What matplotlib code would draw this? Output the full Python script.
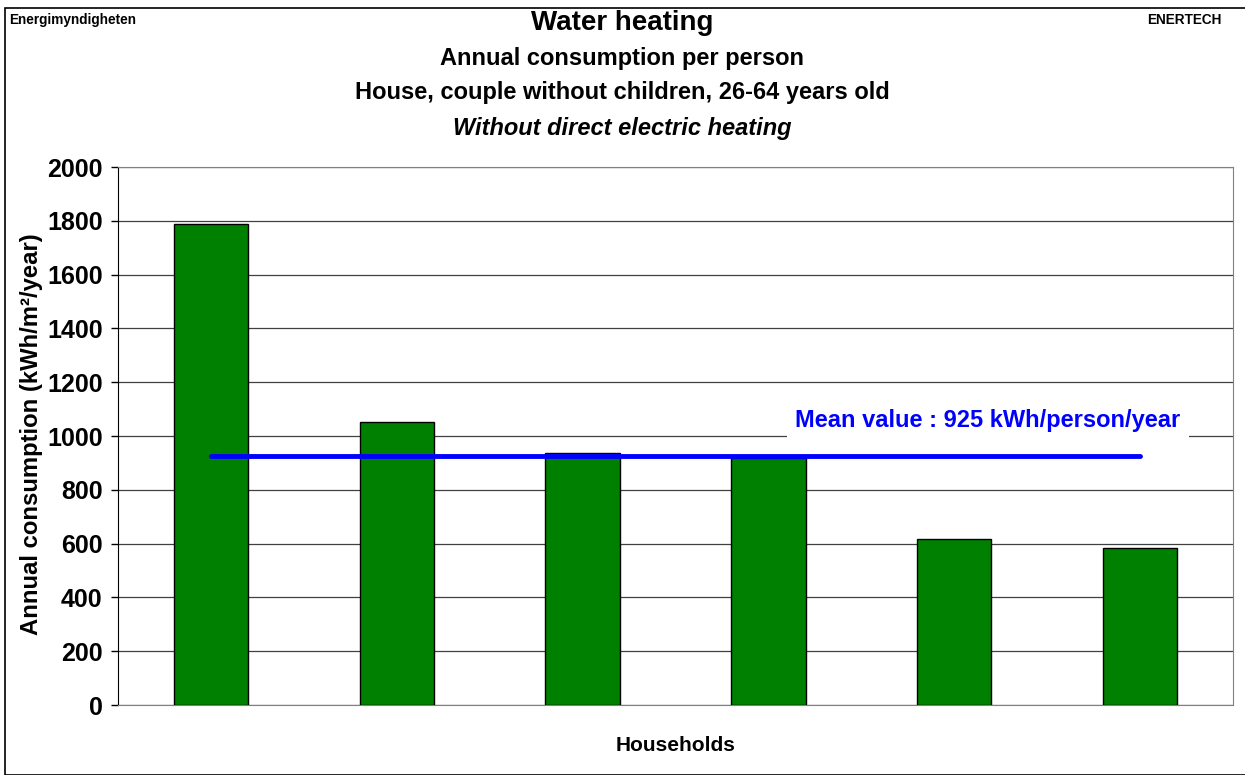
import matplotlib.pyplot as plt
from matplotlib.patches import Rectangle

plt.rcParams['font.family'] = ['Liberation Sans', 'DejaVu Sans']

households = ['1', '2', '3', '4', '5', '6']
consumption = [1790, 1052, 937, 920, 617, 584]
mean_value = 925

fig = plt.figure(figsize=(12.45, 7.75), dpi=100)
ax = fig.add_axes([0.0948, 0.0903, 0.8956, 0.6942])

# figure frame
fig.patches.append(Rectangle((5/1245, 0), 1, 1 - 8/775, transform=fig.transFigure,
                             fill=False, edgecolor='black', linewidth=1.2))

x = [i + 0.5 for i in range(len(households))]
ax.bar(x, consumption, width=0.4, color='#008000', edgecolor='black', linewidth=1, zorder=3)
ax.plot([x[0], x[-1]], [mean_value, mean_value], color='#0000ff', linewidth=3.5,
        solid_capstyle='round', zorder=4)
ax.text(4.68, 1058, 'Mean value : %d kWh/person/year' % mean_value, color='#0000ff',
        fontsize=17, fontweight='bold', ha='center', va='center', zorder=5,
        bbox=dict(facecolor='white', edgecolor='none', pad=6))

ax.set_xlim(0, 6)
ax.set_ylim(0, 2000)
ax.set_yticks(range(0, 2001, 200))
ax.set_xticks([])
ax.grid(axis='y', color='#404040', linewidth=0.9, zorder=0)
ax.set_axisbelow(True)
for t in ax.get_yticklabels():
    t.set_fontweight('bold')
ax.tick_params(axis='y', labelsize=18, length=5, width=1, pad=6)
for s in ['top', 'right', 'bottom']:
    ax.spines[s].set_color('#808080')
ax.spines['left'].set_color('black')

ax.set_ylabel('Annual consumption (kWh/m²/year)', fontsize=17.2, fontweight='bold')
ax.yaxis.set_label_coords(-0.067, 0.504)
ax.set_xlabel('Households', fontsize=15, fontweight='bold', labelpad=22)

fig.text(0.5, 1 - 23/775, 'Water heating', fontsize=20, fontweight='bold', ha='center', va='center')
fig.text(0.5, 1 - 58/775, 'Annual consumption per person', fontsize=17, fontweight='bold',
         ha='center', va='center')
fig.text(0.5, 1 - 93/775, 'House, couple without children, 26-64 years old', fontsize=17,
         fontweight='bold', ha='center', va='center')
fig.text(0.5, 1 - 128/775, 'Without direct electric heating', fontsize=17, fontweight='bold',
         style='italic', ha='center', va='center')
fig.text(9/1245, 1 - 20/775, 'Energimyndigheten', fontsize=9.8, fontweight='bold', ha='left', va='center')
fig.text(1222/1245, 1 - 20/775, 'ENERTECH', fontsize=9.8, fontweight='bold', ha='right', va='center')

fig.savefig('out.png', dpi=100)
